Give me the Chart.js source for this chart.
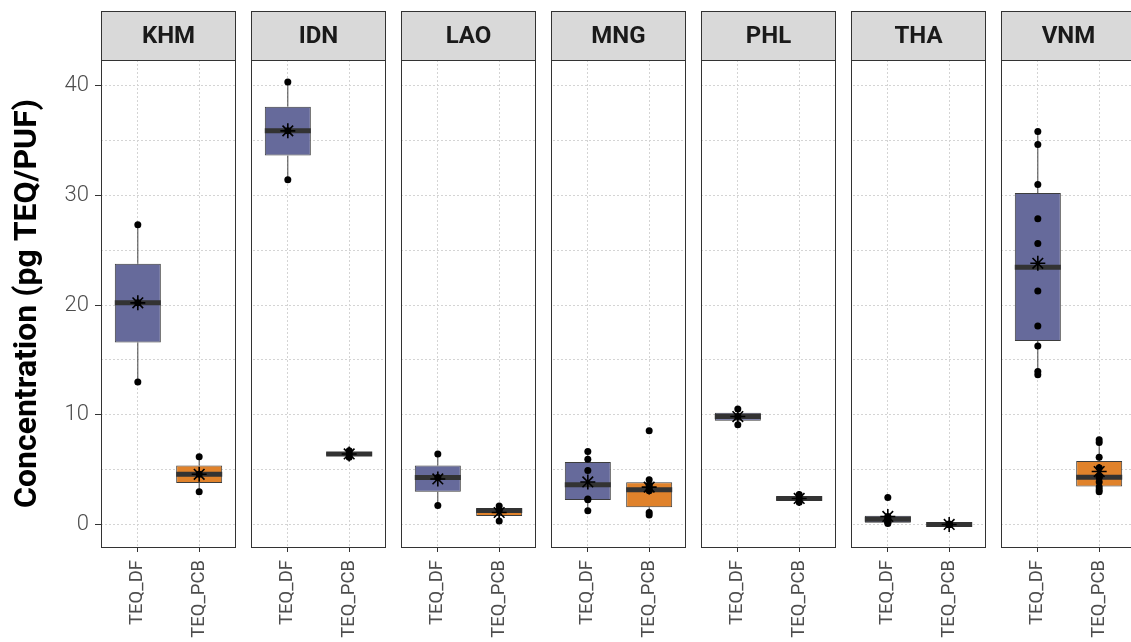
<!DOCTYPE html>
<html>
<head>
<meta charset="utf-8">
<title>TEQ concentrations by country</title>
<script src="https://cdn.jsdelivr.net/npm/chart.js@4.4.1/dist/chart.umd.min.js"></script>
<style>
  html, body { margin: 0; padding: 0; background: #ffffff; overflow: hidden; }
  #wrap { position: relative; width: 1140px; height: 642px; }
</style>
</head>
<body>
<div id="wrap"><canvas id="chart" width="1140" height="642"></canvas></div>
<script>
// ---- data -------------------------------------------------------------
const countries = ['KHM', 'IDN', 'LAO', 'MNG', 'PHL', 'THA', 'VNM'];
const measures = ['TEQ_DF', 'TEQ_PCB'];
const yTicks = [0, 10, 20, 30, 40];

// TEQ_DF box statistics per country
const dfLow    = [13.0, 31.4, 1.75, 1.27,  9.10, 0.12, 13.65];
const dfQ1     = [16.6, 33.6, 3.00, 2.25,  9.47, 0.18, 16.73];
const dfMedian = [20.2, 35.85, 4.30, 3.64, 9.85, 0.50, 23.44];
const dfQ3     = [23.75, 38.05, 5.40, 5.72, 10.20, 0.82, 30.19];
const dfHigh   = [27.3, 40.3, 6.45, 6.66, 10.55, 0.82, 35.80];
const dfMean   = [20.2, 35.85, 4.17, 3.90, 9.85, 0.76, 23.80];
const dfPoints = [
  [13.0, 20.2, 27.3],
  [31.4, 35.85, 40.3],
  [1.75, 4.3, 6.45],
  [1.27, 2.27, 2.34, 4.94, 5.97, 6.66],
  [9.1, 9.85, 10.55],
  [0.12, 0.2, 0.3, 0.6, 0.75, 2.48],
  [13.65, 13.95, 16.27, 18.1, 21.27, 25.6, 27.85, 30.97, 34.6, 35.8]
];

// TEQ_PCB box statistics per country
const pcbLow    = [3.0, 6.15, 0.35, 0.90, 2.05, 0.00, 3.00];
const pcbQ1     = [3.8, 6.30, 0.80, 1.60, 2.22, 0.00, 3.48];
const pcbMedian = [4.6, 6.45, 1.30, 3.18, 2.40, 0.02, 4.33];
const pcbQ3     = [5.4, 6.60, 1.48, 3.88, 2.57, 0.05, 5.80];
const pcbHigh   = [6.2, 6.75, 1.72, 4.09, 2.75, 0.08, 7.75];
const pcbMean   = [4.6, 6.45, 1.12, 3.43, 2.40, 0.03, 4.85];
const pcbPoints = [
  [3.0, 4.6, 6.2],
  [6.15, 6.45, 6.75],
  [0.35, 1.3, 1.72],
  [0.9, 1.12, 3.09, 3.3, 3.6, 4.09, 8.57],
  [2.05, 2.4, 2.75],
  [0.0, 0.02, 0.05, 0.08],
  [3.0, 3.2, 3.45, 3.9, 4.3, 4.4, 5.2, 6.15, 7.5, 7.75]
];

// ---- facet layout on one shared linear x axis -------------------------
const PANEL_WIDTH = 2.2;     // two categories with 0.6 padding each side
const PANEL_GAP = 0.2444;    // spacing between facets, in x units
const STEP = PANEL_WIDTH + PANEL_GAP;
const BOX_HALF = 0.375;
const X_MIN = 0.4;
const X_MAX = X_MIN + countries.length * PANEL_WIDTH + (countries.length - 1) * PANEL_GAP;
const xPos = (p, m) => 1 + m + p * STEP;

const fills = ['#666a9b', '#e0822b'];
const stats = [
  { low: dfLow, q1: dfQ1, med: dfMedian, q3: dfQ3, high: dfHigh, mean: dfMean, pts: dfPoints },
  { low: pcbLow, q1: pcbQ1, med: pcbMedian, q3: pcbQ3, high: pcbHigh, mean: pcbMean, pts: pcbPoints }
];

const whiskerData = [], boxData = [], boxColors = [], medianData = [], pointData = [], meanData = [];
const tickPositions = [], tickNames = [];
countries.forEach((c, p) => {
  measures.forEach((m, k) => {
    const s = stats[k];
    const x = xPos(p, k);
    tickPositions.push(x);
    tickNames.push(m);
    whiskerData.push({ x, y: s.low[p] }, { x, y: s.q1[p] }, { x, y: null },
                     { x, y: s.q3[p] }, { x, y: s.high[p] }, { x, y: null });
    boxData.push({ x, y: [s.q1[p], s.q3[p]] });
    boxColors.push(fills[k]);
    medianData.push({ x: x - BOX_HALF, y: s.med[p] }, { x: x + BOX_HALF, y: s.med[p] }, { x, y: null });
    s.pts[p].forEach(v => pointData.push({ x, y: v }));
    meanData.push({ x, y: s.mean[p] });
  });
});

// ---- facet frames, gaps and strip labels ------------------------------
const facetPlugin = {
  id: 'facets',
  beforeDatasetsDraw(chart) {
    const { ctx, chartArea: a, scales: { x } } = chart;
    ctx.save();
    ctx.fillStyle = '#ffffff';
    for (let p = 0; p < countries.length - 1; p++) {
      const r = Math.round(x.getPixelForValue(X_MIN + PANEL_WIDTH + p * STEP));
      const l = Math.round(x.getPixelForValue(X_MIN + (p + 1) * STEP));
      ctx.fillRect(r, a.top - 1, l - r, a.bottom - a.top + 2);
    }
    ctx.restore();
  },
  afterDatasetsDraw(chart) {
    const { ctx, chartArea: a, scales: { x } } = chart;
    const stripTop = 11;
    ctx.save();
    ctx.lineWidth = 1;
    ctx.strokeStyle = '#333333';
    countries.forEach((c, p) => {
      const l = Math.round(x.getPixelForValue(X_MIN + p * STEP));
      const r = Math.round(x.getPixelForValue(X_MIN + PANEL_WIDTH + p * STEP));
      ctx.strokeRect(l + 0.5, a.top + 0.5, r - l - 1, a.bottom - a.top);
      ctx.fillStyle = '#d9d9d9';
      ctx.fillRect(l + 0.5, stripTop + 0.5, r - l - 1, a.top - stripTop);
      ctx.strokeRect(l + 0.5, stripTop + 0.5, r - l - 1, a.top - stripTop);
      ctx.fillStyle = '#1a1a1a';
      ctx.font = 'bold 24px Roboto';
      ctx.textAlign = 'center';
      ctx.textBaseline = 'middle';
      ctx.fillText(c, (l + r) / 2, (stripTop + a.top) / 2 + 1);
    });
    ctx.restore();
  }
};

Chart.defaults.font.family = 'Roboto';

new Chart(document.getElementById('chart'), {
  type: 'bar',
  data: {
    datasets: [
      {
        type: 'line', label: 'whiskers', data: whiskerData, order: 5,
        borderColor: '#444444', borderWidth: 1, pointRadius: 0, spanGaps: false, fill: false
      },
      {
        type: 'bar', label: 'boxes', data: boxData, order: 4,
        backgroundColor: boxColors, borderColor: '#3d3d3d', borderWidth: 1,
        borderSkipped: false, barPercentage: 0.75, categoryPercentage: 1, grouped: false
      },
      {
        type: 'line', label: 'median', data: medianData, order: 3,
        borderColor: '#333333', borderWidth: 5, pointRadius: 0, spanGaps: false, fill: false
      },
      {
        type: 'scatter', label: 'samples', data: pointData, order: 2,
        pointRadius: 3.5, pointBackgroundColor: '#000000', pointBorderWidth: 0, borderColor: '#000000'
      },
      {
        type: 'scatter', label: 'mean', data: meanData, order: 1,
        pointStyle: 'star', pointRadius: 7.5, pointBorderColor: '#000000', pointBorderWidth: 1.6,
        pointBackgroundColor: '#000000'
      }
    ]
  },
  options: {
    responsive: false,
    devicePixelRatio: 1,
    animation: false,
    events: [],
    layout: { autoPadding: false, padding: { top: 60, right: 4, bottom: 0, left: 0 } },
    plugins: { legend: { display: false }, tooltip: { enabled: false } },
    scales: {
      x: {
        type: 'linear', min: X_MIN, max: X_MAX, offset: false,
        afterFit(scale) {
          scale.height = 95;
          scale.paddingLeft = 0;
          scale.paddingRight = 0;
        },
        afterBuildTicks(scale) { scale.ticks = tickPositions.map(v => ({ value: v })); },
        grid: {
          offset: false, color: '#d4d4d4', lineWidth: 1,
          tickLength: 5, tickColor: '#333333', tickWidth: 1
        },
        border: { display: false, dash: [2, 2] },
        ticks: {
          autoSkip: false, minRotation: 90, maxRotation: 90, padding: 8,
          color: '#4d4d4d', font: { size: 18.5 },
          callback: (v, i) => tickNames[i]
        }
      },
      y: {
        type: 'linear', min: -2.02, max: 42.3,
        afterFit(scale) { scale.width = 101; },
        grid: {
          color: '#d4d4d4', lineWidth: 1, tickLength: 6, tickWidth: 1,
          tickColor: ctx => (ctx.tick && yTicks.includes(ctx.tick.value)) ? '#333333' : 'rgba(0,0,0,0)'
        },
        border: { display: false, dash: [2, 2] },
        ticks: {
          stepSize: 5, includeBounds: false, padding: 6,
          color: '#4d4d4d', font: { size: 22, weight: '300' },
          callback: v => yTicks.includes(v) ? String(v) : ''
        },
        title: {
          display: true, text: 'Concentration (pg TEQ/PUF)',
          color: '#000000', font: { size: 32, weight: 'bold' },
          padding: { top: 9, bottom: 0 }
        }
      }
    }
  },
  plugins: [facetPlugin]
});
</script>
</body>
</html>
